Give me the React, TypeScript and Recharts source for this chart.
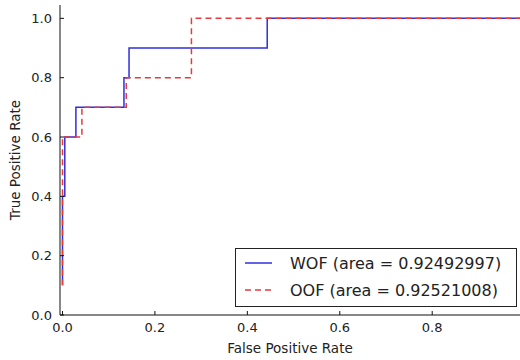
import React from 'react';
import { ComposedChart, Line, XAxis, YAxis, Legend, Label } from 'recharts';

// ROC corner points
const wofFpr = [0, 0, 0.005, 0.005, 0.029, 0.029, 0.133, 0.133, 0.144, 0.144, 0.443, 0.443, 1.0];
const wofTpr = [0.1, 0.4, 0.4, 0.6, 0.6, 0.7, 0.7, 0.8, 0.8, 0.9, 0.9, 1.0, 1.0];
const oofFpr = [0, 0, 0.042, 0.042, 0.138, 0.138, 0.279, 0.279, 1.0];
const oofTpr = [0.1, 0.6, 0.6, 0.7, 0.7, 0.8, 0.8, 1.0, 1.0];

const seriesNames = ['WOF (area = 0.92492997)', 'OOF (area = 0.92521008)'];
const xTicks = [0, 0.2, 0.4, 0.6, 0.8];
const yTicks = [0, 0.2, 0.4, 0.6, 0.8, 1.0];
const xLabel = 'False Positive Rate';
const yLabel = 'True Positive Rate';

const wofData = wofFpr.map((x, i) => ({ x, y: wofTpr[i] }));
const oofData = oofFpr.map((x, i) => ({ x, y: oofTpr[i] }));

const FONT = '"DejaVu Sans", sans-serif';
const BLUE = '#2f2fe0';
const RED = '#e83a3a';

const BottomTick = (props: any) => {
  const { x, y, payload } = props;
  return (
    <g>
      <line x1={x} y1={y} x2={x} y2={y - 4} stroke="#111" strokeWidth={1} />
      <text x={x} y={y + 17} textAnchor="middle" fontFamily={FONT} fontSize={13} fill="#222">
        {Number(payload.value).toFixed(1)}
      </text>
    </g>
  );
};

const TopTick = (props: any) => {
  const { x, y } = props;
  return <line x1={x} y1={y} x2={x} y2={y + 4} stroke="#111" strokeWidth={1} />;
};

const LeftTick = (props: any) => {
  const { x, y, payload } = props;
  return (
    <g>
      <line x1={x} y1={y} x2={x + 4} y2={y} stroke="#111" strokeWidth={1} />
      <text x={x - 8} y={y} dy="0.36em" textAnchor="end" fontFamily={FONT} fontSize={13} fill="#222">
        {Number(payload.value).toFixed(1)}
      </text>
    </g>
  );
};

const LegendBox = (props: any) => {
  const items = [...(props.payload || [])].sort(
    (a: any, b: any) => seriesNames.indexOf(a.value) - seriesNames.indexOf(b.value)
  );
  return (
    <div
      style={{
        width: 282,
        height: 59,
        boxSizing: 'border-box',
        border: '1.5px solid #222',
        background: '#fff',
        position: 'absolute',
        left: 0,
        top: 0,
      }}
    >
      <svg width={280} height={57} style={{ position: 'absolute', left: 0, top: 0 }}>
        {items.map((p: any, i: number) => {
          const cy = 14 + i * 27;
          return (
            <g key={i}>
              <line
                x1={9}
                x2={36}
                y1={cy}
                y2={cy}
                stroke={p.color}
                strokeWidth={1.5}
                strokeDasharray={p.payload && p.payload.strokeDasharray ? p.payload.strokeDasharray : undefined}
              />
              <text x={54} y={cy} dy="0.36em" fontFamily={FONT} fontSize={16} fill="#222">
                {p.value}
              </text>
            </g>
          );
        })}
      </svg>
    </div>
  );
};

export default function App() {
  return (
    <div style={{ position: 'absolute', left: 0, top: 0 }}>
      <ComposedChart width={520} height={360} margin={{ top: 5, right: 0, bottom: 0, left: 0 }}>
        <XAxis
          xAxisId="b"
          type="number"
          dataKey="x"
          domain={[-0.0054, 0.99]}
          allowDataOverflow
          ticks={xTicks}
          height={45}
          tickSize={0}
          tickMargin={0}
          tick={<BottomTick />}
          axisLine={{ stroke: '#111', strokeWidth: 1 }}
          tickLine={false}
        >
          <Label value={xLabel} position="insideBottom" offset={7} fontFamily={FONT} fontSize={13.5} fill="#222" />
        </XAxis>
        <XAxis
          xAxisId="t"
          orientation="top"
          type="number"
          dataKey="x"
          domain={[-0.0054, 0.99]}
          allowDataOverflow
          ticks={xTicks}
          height={0}
          tickSize={0}
          tickMargin={0}
          tick={<TopTick />}
          axisLine={{ stroke: '#111', strokeWidth: 1 }}
          tickLine={false}
        />
        <YAxis
          type="number"
          dataKey="y"
          domain={[0, 1.045]}
          allowDataOverflow
          ticks={yTicks}
          width={60}
          tickSize={0}
          tickMargin={0}
          tick={<LeftTick />}
          axisLine={{ stroke: '#111', strokeWidth: 1 }}
          tickLine={false}
        >
          <Label value={yLabel} angle={-90} position="center" dx={-15} fontFamily={FONT} fontSize={13.5} fill="#222" />
        </YAxis>
        <Line
          xAxisId="b"
          data={wofData}
          dataKey="y"
          name={seriesNames[0]}
          type="linear"
          stroke={BLUE}
          strokeWidth={1.5}
          dot={false}
          isAnimationActive={false}
        />
        <Line
          xAxisId="b"
          data={oofData}
          dataKey="y"
          name={seriesNames[1]}
          type="linear"
          stroke={RED}
          strokeWidth={1.5}
          strokeDasharray="6 4"
          dot={false}
          isAnimationActive={false}
        />
        <Legend
          content={<LegendBox />}
          wrapperStyle={{ position: 'absolute', left: 235, top: 248, width: 0, height: 0, overflow: 'visible' }}
        />
      </ComposedChart>
    </div>
  );
}
